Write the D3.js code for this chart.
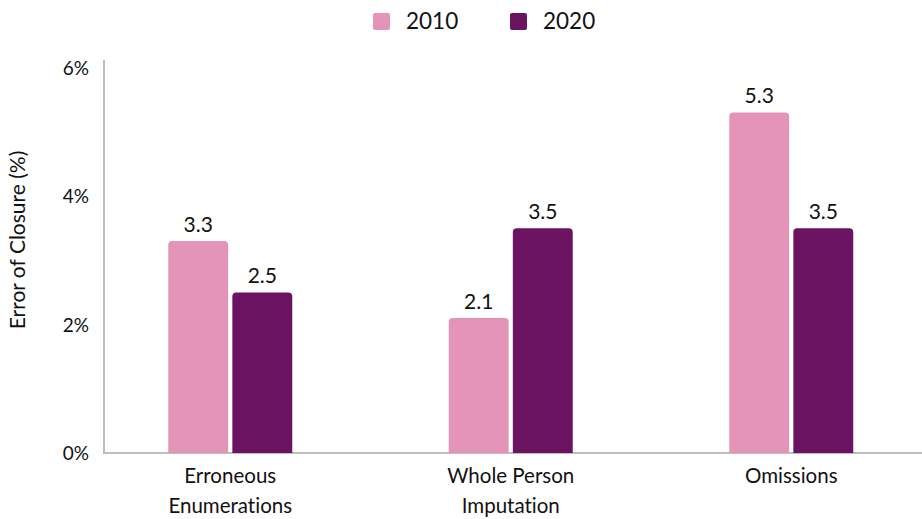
<!DOCTYPE html>
<html><head><meta charset="utf-8">
<script src="https://cdn.jsdelivr.net/npm/d3@7"></script>
<style>body{margin:0;background:#fff}svg{display:block}text{font-family:Lato,"Open Sans",sans-serif;fill:#111;font-variant-ligatures:none;font-feature-settings:"liga" 0}</style>
</head><body>
<svg id="c" width="922" height="519"></svg>
<script>
const categories = [["Erroneous","Enumerations"],["Whole Person","Imputation"],["Omissions"]];
const series = ["2010","2020"];
const values2010 = [3.3, 2.1, 5.3];
const values2020 = [2.5, 3.5, 3.5];
const yTicks = [0, 2, 4, 6];
const colors = ["#E494B8", "#6B1360"];

const svg = d3.select("#c");
const y = d3.scaleLinear().domain([0, 6]).range([453, 67.5]);
const x0 = d3.scaleBand().domain(d3.range(categories.length)).range([90, 931.5]);
const x1 = d3.scaleBand().domain(series).range([-62, 62]).paddingInner(0.065);

// axes lines
svg.append("line").attr("x1",104).attr("x2",104).attr("y1",60).attr("y2",453).attr("stroke","#bdbdbd").attr("stroke-width",2);
svg.append("line").attr("x1",103).attr("x2",922).attr("y1",453).attr("y2",453).attr("stroke","#bdbdbd").attr("stroke-width",2);

const yAxis = d3.axisLeft(y).tickValues(yTicks).tickFormat(d=>d+"%").tickSize(0).tickPadding(0);
const ga = svg.append("g").attr("transform","translate(89,0)").call(yAxis);
ga.select(".domain").remove();
ga.selectAll("text").attr("font-size",19).attr("font-family","Lato, sans-serif").attr("fill","#111").attr("dy","0.35em");

svg.append("text").attr("transform","translate(25,240) rotate(-90)").attr("text-anchor","middle").attr("font-size",21).text("Error of Closure (%)");

const data = categories.map((c,i)=>({i, vals:[values2010[i], values2020[i]]}));
function roundTop(x,yTop,w,h,r){
  return `M${x},${yTop+h}V${yTop+r}Q${x},${yTop} ${x+r},${yTop}H${x+w-r}Q${x+w},${yTop} ${x+w},${yTop+r}V${yTop+h}Z`;
}
data.forEach(d=>{
  const cx = x0(d.i) + x0.bandwidth()/2;
  d.vals.forEach((v,j)=>{
    const bx = cx + x1(series[j]);
    const w = x1.bandwidth();
    svg.append("path").attr("d", roundTop(bx, y(v), w, y(0)-y(v), 4)).attr("fill", colors[j]);
    svg.append("text").attr("x", bx + w/2).attr("y", y(v) - 9).attr("text-anchor","middle").attr("font-size",21).text(v.toFixed(1));
  });
  const t = svg.append("text").attr("text-anchor","middle").attr("font-size",20.5);
  categories[d.i].forEach((line,k)=>{
    t.append("tspan").attr("x", cx).attr("y", 483 + k*30).text(line);
  });
});

// legend
const leg = [{x:373, tx:406},{x:510, tx:543}];
series.forEach((s,j)=>{
  svg.append("rect").attr("x",leg[j].x).attr("y",13).attr("width",17).attr("height",17).attr("rx",2).attr("fill",colors[j]);
  svg.append("text").attr("x",leg[j].tx).attr("y",29).attr("font-size",22.5).text(s);
});
</script>
</body></html>
